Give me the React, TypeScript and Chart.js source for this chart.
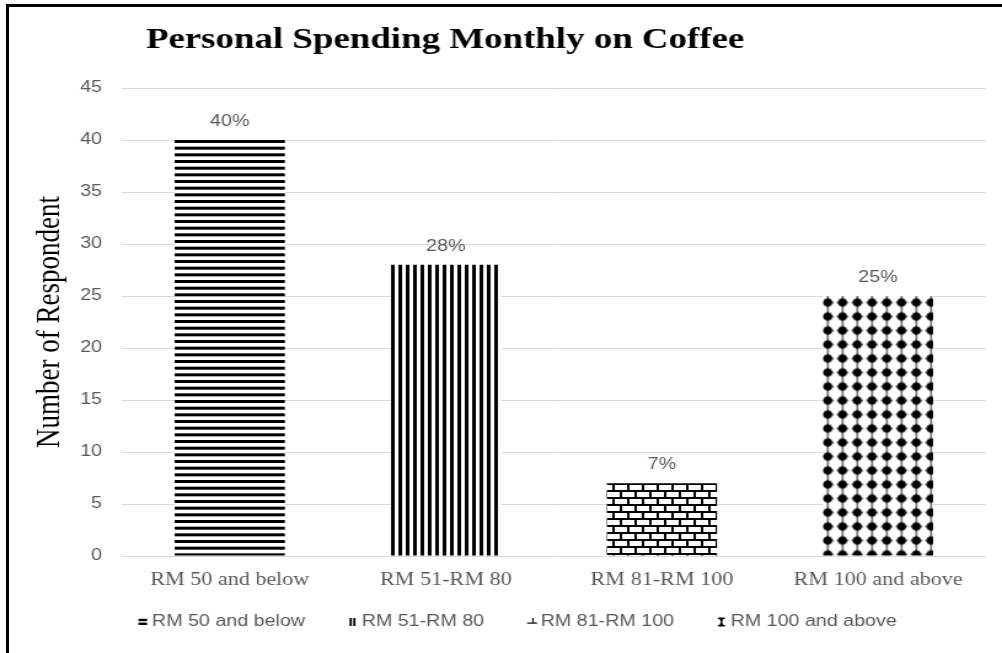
import { useEffect, useRef } from 'react';
import { Chart, registerables } from 'chart.js';

Chart.register(...registerables);

// ---- data ----
const categories = ['RM 50 and below', 'RM 51-RM 80', 'RM 81-RM 100', 'RM 100 and above'];
const respondents = [40, 28, 7, 25];
const percentLabels = ['40%', '28%', '7%', '25%'];
const yMin = 0;
const yMax = 45;
const yStep = 5;
const chartTitle = 'Personal Spending Monthly on Coffee';
const yAxisTitle = 'Number of Respondent';

// ---- layout / style ----
const SX = 1.2295; // horizontal stretch of the reference image
const W = 815;
const H = 653;
const GREY = '#595959';

function tile(
  w: number,
  h: number,
  draw: (g: CanvasRenderingContext2D) => void,
  tx = 0,
  ty = 0
): CanvasPattern {
  const c = document.createElement('canvas');
  c.width = w;
  c.height = h;
  const g = c.getContext('2d')!;
  draw(g);
  const p = document.createElement('canvas').getContext('2d')!.createPattern(c, 'repeat') as CanvasPattern;
  if (tx || ty) {
    try {
      p.setTransform(new DOMMatrix([1, 0, 0, 1, tx, ty]));
    } catch (e) {
      /* ignore */
    }
  }
  return p;
}

function hLines() {
  return tile(8, 20, (g) => {
    g.fillStyle = '#fff';
    g.fillRect(0, 0, 8, 20);
    g.fillStyle = '#000';
    g.fillRect(0, 0, 8, 3);
    g.fillRect(0, 6.67, 8, 3);
    g.fillRect(0, 13.33, 8, 3);
  });
}

function vLines() {
  return tile(6, 8, (g) => {
    g.fillStyle = '#fff';
    g.fillRect(0, 0, 6, 8);
    g.fillStyle = '#000';
    g.fillRect(0, 0, 3, 8);
  });
}

function bricks() {
  return tile(12, 14, (g) => {
    g.fillStyle = '#000';
    g.fillRect(0, 0, 12, 14);
    g.fillStyle = '#fff';
    g.fillRect(2, 2, 10, 5);
    g.fillRect(8, 9, 4, 5);
    g.fillRect(0, 9, 6, 5);
  });
}

function dots() {
  return tile(
    12,
    14,
    (g) => {
      g.fillStyle = '#fff';
      g.fillRect(0, 0, 12, 14);
      g.fillStyle = '#000';
      g.fillRect(5.6, 0, 0.9, 14);
      g.beginPath();
      g.ellipse(6, 7, 3.7, 4.1, 0, 0, Math.PI * 2);
      g.fill();
      g.beginPath();
      g.moveTo(0.6, 7);
      g.lineTo(6, 5.0);
      g.lineTo(11.4, 7);
      g.lineTo(6, 9.0);
      g.closePath();
      g.fill();
      g.beginPath();
      g.moveTo(6, 1.2);
      g.lineTo(7.4, 7);
      g.lineTo(6, 12.8);
      g.lineTo(4.6, 7);
      g.closePath();
      g.fill();
    },
    7.2,
    1.5
  );
}

// small legend glyphs, drawn at the legend's own hit boxes
function drawLegendIcon(ctx: CanvasRenderingContext2D, i: number, x: number, cy: number) {
  ctx.fillStyle = '#000';
  if (i === 0) {
    ctx.fillRect(x, cy - 3.2, 7, 2.4);
    ctx.fillRect(x, cy + 0.6, 7, 2.4);
  } else if (i === 1) {
    ctx.fillRect(x + 1.2, cy - 4, 1.8, 8);
    ctx.fillRect(x + 4.2, cy - 4, 1.8, 8);
  } else if (i === 2) {
    ctx.fillRect(x, cy + 0.5, 8, 1.2);
    ctx.fillRect(x + 4.2, cy - 4, 1.1, 5);
  } else {
    ctx.fillRect(x + 0.8, cy - 4.5, 5.6, 1.6);
    ctx.fillRect(x + 0.8, cy + 2.9, 5.6, 1.6);
    ctx.beginPath();
    ctx.moveTo(x + 2.2, cy - 3);
    ctx.lineTo(x + 5, cy - 3);
    ctx.lineTo(x + 4.2, cy);
    ctx.lineTo(x + 5, cy + 3);
    ctx.lineTo(x + 2.2, cy + 3);
    ctx.lineTo(x + 3, cy);
    ctx.closePath();
    ctx.fill();
  }
}

const customPlugin = {
  id: 'customDecor',
  afterLayout(chart: any) {
    // let the category labels overflow their box instead of being clipped
    const x = chart.scales.x;
    if (x) x.bottom = x.top + 60;
  },
  afterDatasetsDraw(chart: any) {
    const ctx = chart.ctx as CanvasRenderingContext2D;
    const meta = chart.getDatasetMeta(0);
    ctx.save();
    ctx.font = '16px "Liberation Sans"';
    ctx.fillStyle = GREY;
    ctx.textAlign = 'center';
    ctx.textBaseline = 'alphabetic';
    meta.data.forEach((el: any, i: number) => {
      ctx.fillText(percentLabels[i], el.x, el.y - 14);
    });
    ctx.restore();
  },
  afterDraw(chart: any) {
    const ctx = chart.ctx as CanvasRenderingContext2D;
    ctx.save();
    ctx.font = 'bold 30px "Liberation Serif"';
    ctx.fillStyle = '#000';
    ctx.textAlign = 'center';
    ctx.textBaseline = 'alphabetic';
    ctx.fillText(chartTitle, 362, 48);
    const boxes = chart.legend && chart.legend.legendHitBoxes;
    if (boxes) {
      boxes.forEach((hb: any, i: number) => {
        drawLegendIcon(ctx, i, hb.left + 4, hb.top + 8);
      });
    }
    ctx.restore();
  },
};

export default function App() {
  const ref = useRef<HTMLCanvasElement>(null);

  useEffect(() => {
    const canvas = ref.current!;
    const patterns = [hLines(), vLines(), bricks(), dots()];
    const chart = new Chart(canvas, {
      type: 'bar',
      data: {
        labels: categories,
        datasets: [
          {
            label: yAxisTitle,
            data: respondents,
            backgroundColor: patterns as any,
            borderWidth: 0,
            barPercentage: 0.51,
            categoryPercentage: 1,
          },
        ],
      },
      options: {
        responsive: false,
        animation: false,
        devicePixelRatio: 1,
        layout: { padding: { top: 88, left: 36, right: 13, bottom: 13 } },
        plugins: {
          title: { display: false },
          tooltip: { enabled: false },
          legend: {
            display: true,
            position: 'bottom',
            onClick: () => {},
            labels: {
              boxWidth: 7,
              boxHeight: 7,
              padding: 31,
              color: GREY,
              font: { family: '"Liberation Sans"', size: 16 },
              generateLabels: () =>
                categories.map((c, i) => ({
                  text: c,
                  fillStyle: 'rgba(0,0,0,0)',
                  strokeStyle: 'rgba(0,0,0,0)',
                  lineWidth: 0,
                  hidden: false,
                  index: i,
                  datasetIndex: 0,
                  fontColor: GREY,
                })),
            },
          },
        },
        scales: {
          x: {
            grid: { display: false, drawTicks: false },
            border: { display: false },
            ticks: {
              color: GREY,
              font: { family: '"Liberation Serif"', size: 18 },
              padding: 13,
              maxRotation: 0,
              autoSkip: false,
            },
            afterFit: (s: any) => {
              s.height = 27;
            },
          },
          y: {
            min: yMin,
            max: yMax,
            grid: { color: '#d9d9d9', lineWidth: 1, drawTicks: false },
            border: { display: false },
            ticks: {
              stepSize: yStep,
              color: GREY,
              font: { family: '"Liberation Sans"', size: 16 },
              padding: 16,
            },
            title: {
              display: true,
              text: yAxisTitle,
              color: '#000',
              font: { family: '"Liberation Serif"', size: 27 },
              padding: { top: -11, bottom: 0 },
            },
            afterFit: (s: any) => {
              s.width = 63;
            },
          },
        },
      },
      plugins: [customPlugin],
    });
    return () => chart.destroy();
  }, []);

  return (
    <div
      style={{
        position: 'absolute',
        left: 0,
        top: 0,
        width: 1002,
        height: 653,
        overflow: 'hidden',
        background: '#fff',
      }}
    >
      <div
        style={{
          position: 'absolute',
          left: 0,
          top: 0,
          width: W,
          height: H,
          transform: `scaleX(${SX})`,
          transformOrigin: '0 0',
        }}
      >
        <canvas ref={ref} width={W} height={H} style={{ width: W, height: H }} />
      </div>
      <div
        style={{
          position: 'absolute',
          left: 6,
          top: 4,
          width: 1200,
          height: 800,
          border: '3px solid #000',
          boxSizing: 'border-box',
          pointerEvents: 'none',
        }}
      />
    </div>
  );
}
